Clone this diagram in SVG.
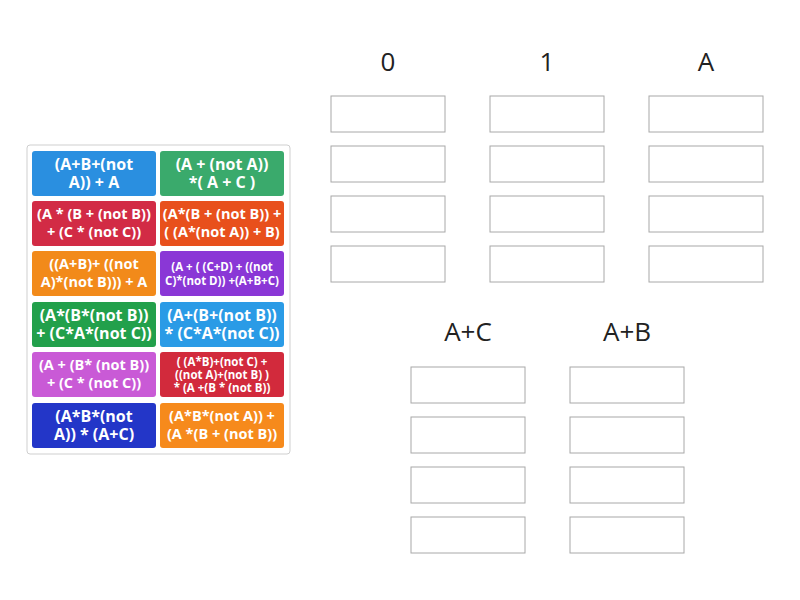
<svg xmlns="http://www.w3.org/2000/svg" width="800" height="600" viewBox="0 0 800 600">
<style>
.h{font-family:"Open Sans","Noto Sans",sans-serif;font-size:26px;fill:#222;text-anchor:middle}
.s{fill:#fff;stroke:#a8a8a8;stroke-width:1}
.t{font-family:"Open Sans","Noto Sans",sans-serif;font-weight:bold;fill:#fff;text-anchor:middle;font-size:16px}
.m{font-size:14.5px}.x{font-size:11.5px}
</style>
<rect width="800" height="600" fill="#fff"/>
<g id="headers">
<text class="h" x="388" y="71">0</text><text class="h" x="547" y="71">1</text><text class="h" x="706" y="71">A</text>
<text class="h" x="468" y="341">A+C</text><text class="h" x="627" y="341">A+B</text>
</g>
<g id="slots">
<rect class="s" x="331" y="96" width="114" height="36"/><rect class="s" x="331" y="146" width="114" height="36"/><rect class="s" x="331" y="196" width="114" height="36"/><rect class="s" x="331" y="246" width="114" height="36"/>
<rect class="s" x="490" y="96" width="114" height="36"/><rect class="s" x="490" y="146" width="114" height="36"/><rect class="s" x="490" y="196" width="114" height="36"/><rect class="s" x="490" y="246" width="114" height="36"/>
<rect class="s" x="649" y="96" width="114" height="36"/><rect class="s" x="649" y="146" width="114" height="36"/><rect class="s" x="649" y="196" width="114" height="36"/><rect class="s" x="649" y="246" width="114" height="36"/>
<rect class="s" x="411" y="367" width="114" height="36"/><rect class="s" x="411" y="417" width="114" height="36"/><rect class="s" x="411" y="467" width="114" height="36"/><rect class="s" x="411" y="517" width="114" height="36"/>
<rect class="s" x="570" y="367" width="114" height="36"/><rect class="s" x="570" y="417" width="114" height="36"/><rect class="s" x="570" y="467" width="114" height="36"/><rect class="s" x="570" y="517" width="114" height="36"/>
</g>
<rect x="27" y="145" width="263" height="309" rx="3" fill="#fff" stroke="#cfcfcf"/>
<g id="tiles">
<rect x="32" y="151" width="124" height="45" rx="3" fill="#2a8fe0"/><text class="t" x="94" y="170">(A+B+(not</text><text class="t" x="94" y="188">A)) + A</text>
<rect x="160" y="151" width="124" height="45" rx="3" fill="#3aaa6c"/><text class="t" x="222" y="170">(A + (not A))</text><text class="t" x="222" y="188">*( A + C )</text>
<rect x="32" y="201" width="124" height="45" rx="3" fill="#d22b45"/><text class="t m" x="94" y="219">(A * (B + (not B))</text><text class="t m" x="94" y="237">+ (C * (not C))</text>
<rect x="160" y="201" width="124" height="45" rx="3" fill="#e8501c"/><text class="t m" x="222" y="219">(A*(B + (not B)) +</text><text class="t m" x="222" y="237">( (A*(not A)) + B)</text>
<rect x="32" y="251" width="124" height="45" rx="3" fill="#f28a1a"/><text class="t m" x="94" y="269">((A+B)+ ((not</text><text class="t m" x="94" y="287">A)*(not B))) + A</text>
<rect x="160" y="251" width="124" height="45" rx="3" fill="#8a37d6"/><text class="t x" x="222" y="271">(A + ( (C+D) + ((not</text><text class="t x" x="222" y="285">C)*(not D)) +(A+B+C)</text>
<rect x="32" y="302" width="124" height="45" rx="3" fill="#22a04b"/><text class="t" x="94" y="321">(A*(B*(not B))</text><text class="t" x="94" y="339">+ (C*A*(not C))</text>
<rect x="160" y="302" width="124" height="45" rx="3" fill="#2a9be6"/><text class="t" x="222" y="321">(A+(B+(not B))</text><text class="t" x="222" y="339">* (C*A*(not C))</text>
<rect x="32" y="352" width="124" height="45" rx="3" fill="#c95ad6"/><text class="t m" x="94" y="370">(A + (B* (not B))</text><text class="t m" x="94" y="388">+ (C * (not C))</text>
<rect x="160" y="352" width="124" height="45" rx="3" fill="#d22a3c"/><text class="t x" x="222" y="366">( (A*B)+(not C) +</text><text class="t x" x="222" y="379">((not A)+(not B) )</text><text class="t x" x="222" y="392">* (A +(B * (not B))</text>
<rect x="32" y="403" width="124" height="45" rx="3" fill="#2336c8"/><text class="t" x="94" y="422">(A*B*(not</text><text class="t" x="94" y="440">A)) * (A+C)</text>
<rect x="160" y="403" width="124" height="45" rx="3" fill="#f68a1c"/><text class="t m" x="222" y="421">(A*B*(not A)) +</text><text class="t m" x="222" y="439">(A *(B + (not B))</text>
</g>
</svg>
